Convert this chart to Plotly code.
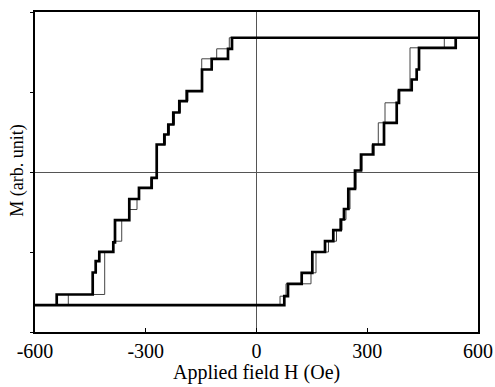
import plotly.graph_objects as go

# Saturation levels (arb. unit)
M_TOP = 1.678
M_BOT = -1.665

# Thick curve: descending branch (field swept down), step fields and levels after each step
thick_desc_H = [-66.4, -77.2, -121.4, -147.6, -189.1, -209.1, -225.4, -238.9, -249.7,
                -270.3, -283.9, -318.3, -344.6, -383.3, -387.9, -425.8, -435.6, -443.7, -541.2]
thick_desc_M = [1.54, 1.415, 1.281, 1.01, 0.885, 0.744, 0.594, 0.469, 0.344,
                -0.0725, -0.1975, -0.3375, -0.6025, -0.88, -0.9975, -1.115, -1.256, -1.531, -1.665]

# Thick curve: ascending branch (field swept up)
thick_asc_H = [75.3, 85.3, 122.4, 151.2, 185.6, 208.0, 228.1, 237.0, 248.7, 266.8,
               283.1, 316.4, 345.4, 379.8, 386.0, 420.4, 433.9, 440.2, 539.6]
thick_asc_M = [-1.5525, -1.3975, -1.26, -1.0, -0.865, -0.7275, -0.594, -0.4625, -0.21, 0.019,
               0.219, 0.344, 0.615, 0.865, 1.0225, 1.156, 1.281, 1.5525, 1.678]

# Thin curve: descending branch
thin_desc_H = [-73.7, -107.8, -148.4, -185.6, -205.9, -222.1, -235.7, -246.5, -268.2,
               -286.6, -318.3, -323.7, -344.6, -365.1, -387.9, -411.2, -509.8]
thin_desc_M = [1.54, 1.415, 1.01, 0.885, 0.744, 0.594, 0.469, 0.344, -0.0725,
               -0.1975, -0.3375, -0.469, -0.6025, -0.865, -0.9975, -1.531, -1.665]

# Thin curve: ascending branch
thin_asc_H = [63.7, 79.9, 147.6, 161.2, 195.0, 216.7, 231.6, 242.4, 253.3, 269.5,
              285.8, 312.9, 329.9, 348.1, 383.3, 415.8, 508.7]
thin_asc_M = [-1.5525, -1.3975, -1.26, -1.0, -0.865, -0.7275, -0.594, -0.4625, -0.21, 0.019,
              0.219, 0.344, 0.615, 0.865, 1.0225, 1.5525, 1.678]

H_MIN, H_MAX = -600, 600
x_ticks = [-600, -300, 0, 300, 600]
x_ticklabels = ["-600", "-300", "0", "300", "600"]
y_ticks = [-2, -1, 0, 1, 2]


def staircase(start_h, start_m, steps_h, steps_m, end_h):
    xs, ys = [start_h], [start_m]
    m = start_m
    for h, new_m in zip(steps_h, steps_m):
        xs += [h, h]
        ys += [m, new_m]
        m = new_m
    xs.append(end_h)
    ys.append(m)
    return xs, ys


def loop(asc_H, asc_M, desc_H, desc_M):
    ax, ay = staircase(H_MIN, M_BOT, asc_H, asc_M, H_MAX)
    dx, dy = staircase(H_MAX, M_TOP, desc_H, desc_M, H_MIN)
    return ax + dx, ay + dy


tx, ty = loop(thin_asc_H, thin_asc_M, thin_desc_H, thin_desc_M)
kx, ky = loop(thick_asc_H, thick_asc_M, thick_desc_H, thick_desc_M)

fig = go.Figure()
fig.add_trace(go.Scatter(x=tx, y=ty, mode="lines",
                         line=dict(color="#444444", width=1), hoverinfo="skip"))
fig.add_trace(go.Scatter(x=kx, y=ky, mode="lines",
                         line=dict(color="black", width=2.7), hoverinfo="skip"))

serif = "Liberation Serif"
fig.update_layout(
    width=495, height=387,
    margin=dict(l=35, r=17, t=12, b=55),
    paper_bgcolor="white", plot_bgcolor="white",
    showlegend=False,
    font=dict(family=serif, size=18, color="black"),
    xaxis=dict(range=[H_MIN, H_MAX], tickvals=x_ticks, ticktext=x_ticklabels,
               ticks="inside", ticklen=4, tickcolor="black", automargin=False,
               showline=True, linewidth=2, linecolor="black", mirror=True,
               showgrid=False, zeroline=True, zerolinecolor="#555555", zerolinewidth=1,
               tickfont=dict(family=serif, size=20, color="black")),
    yaxis=dict(range=[-2, 2], tickvals=y_ticks, showticklabels=False, automargin=False,
               ticks="outside", ticklen=3, tickcolor="black",
               showline=True, linewidth=2, linecolor="black", mirror=True,
               showgrid=False, zeroline=True, zerolinecolor="#555555", zerolinewidth=1),
    annotations=[
        dict(text="Applied field H (Oe)", xref="paper", yref="paper", x=0.5, y=-0.127,
             xanchor="center", yanchor="middle", showarrow=False,
             font=dict(family=serif, size=20, color="black")),
        dict(text="M (arb. unit)", xref="paper", yref="paper", x=-0.04, y=0.505,
             xanchor="center", yanchor="middle", textangle=-90, showarrow=False,
             font=dict(family=serif, size=18, color="black")),
    ],
)

fig.write_html("out.html")
